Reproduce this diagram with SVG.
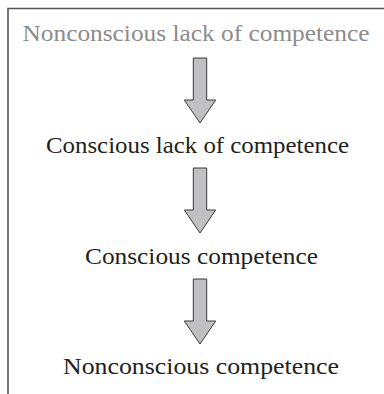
<svg xmlns="http://www.w3.org/2000/svg" width="384" height="394" viewBox="0 0 384 394">
<style>
.t{font-family:"Liberation Serif","Times New Roman",serif;font-size:23px;text-anchor:middle;fill:#231f20}
.g{fill:#8c8c8c}
.a{fill:#c0c0c2;stroke:#3a3a3a;stroke-width:1}
.f{fill:none;stroke:#555;stroke-width:1.6}
</style>
<defs>
<path id="arr" class="a" d="M-6.7,0 H6.7 V42 H15.7 L0,65 L-15.7,42 H-6.7 Z"/>
</defs>
<g id="frame"><path class="f" d="M8,394 V8.5 H384"/></g>
<g id="n1"><text class="t g" x="196" y="41" textLength="347" lengthAdjust="spacingAndGlyphs">Nonconscious lack of competence</text></g>
<g id="n2"><text class="t" x="197.5" y="153" textLength="303" lengthAdjust="spacingAndGlyphs">Conscious lack of competence</text></g>
<g id="n3"><text class="t" x="201.5" y="264" textLength="233" lengthAdjust="spacingAndGlyphs">Conscious competence</text></g>
<g id="n4"><text class="t" x="201" y="374" textLength="276" lengthAdjust="spacingAndGlyphs">Nonconscious competence</text></g>
<g id="connectors">
<use href="#arr" x="200" y="58"/>
<use href="#arr" x="200" y="168"/>
<use href="#arr" x="200" y="279"/>
</g>
</svg>
